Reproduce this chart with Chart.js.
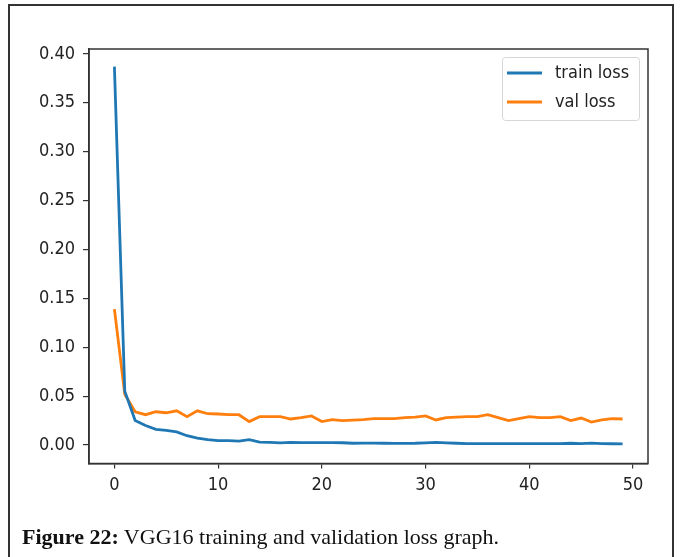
<!DOCTYPE html>
<html>
<head>
<meta charset="utf-8">
<script src="https://cdn.jsdelivr.net/npm/chart.js@4.4.1/dist/chart.umd.min.js"></script>
<style>
  html, body { margin: 0; padding: 0; background: #fff; width: 680px; height: 557px; overflow: hidden; }
  #frame { position: absolute; left: 8px; top: 4px; width: 666px; height: 600px; border: 2px solid #333; box-sizing: border-box; }
  #wrap { position: absolute; left: 0; top: 0; width: 680px; height: 557px; }
  #caption { position: absolute; left: 22px; top: 524px; font-family: "Liberation Serif", "DejaVu Serif", serif; font-size: 22px; color: #111; white-space: nowrap; }
</style>
</head>
<body>
<div id="frame"></div>
<div id="wrap"><canvas id="c" width="680" height="557"></canvas></div>
<div id="caption"><b>Figure 22:</b> VGG16 training and validation loss graph.</div>
<script>
const epochs = [0,1,2,3,4,5,6,7,8,9,10,11,12,13,14,15,16,17,18,19,20,21,22,23,24,25,26,27,28,29,30,31,32,33,34,35,36,37,38,39,40,41,42,43,44,45,46,47,48,49];
const trainLoss = [0.387,0.055,0.025,0.020,0.016,0.015,0.0135,0.0095,0.007,0.0055,
  0.0045,0.0045,0.004,0.0055,0.003,0.0028,0.0022,0.0028,0.0025,0.0025,
  0.0025,0.0025,0.0023,0.0018,0.002,0.002,0.0018,0.0017,0.0017,0.0018,
  0.0022,0.0028,0.0022,0.0018,0.0015,0.0015,0.0015,0.0015,0.0015,0.0015,
  0.0015,0.0014,0.0014,0.0014,0.0018,0.0015,0.002,0.0015,0.0013,0.0012];
const valLoss = [0.139,0.052,0.034,0.031,0.034,0.033,0.035,0.029,0.035,0.032,
  0.0317,0.031,0.031,0.024,0.029,0.029,0.029,0.0266,0.028,0.0297,
  0.024,0.026,0.025,0.0255,0.026,0.027,0.027,0.027,0.028,0.0286,
  0.0297,0.0256,0.028,0.0286,0.029,0.029,0.031,0.028,0.025,0.027,
  0.029,0.028,0.028,0.029,0.025,0.0276,0.0235,0.0256,0.027,0.0266];
const xTicks = [0,10,20,30,40,50];
const yTicks = [0.00,0.05,0.10,0.15,0.20,0.25,0.30,0.35,0.40];
const seriesLabels = ['train loss','val loss'];

const FONT = '"DejaVu Sans Condensed", "DejaVu Sans", sans-serif';

const spines = {
  id: 'spines',
  afterDatasetsDraw(chart) {
    const a = chart.chartArea, ctx = chart.ctx;
    ctx.save();
    ctx.strokeStyle = '#333';
    ctx.lineWidth = 1.5;
    ctx.strokeRect(a.left, a.top, a.right - a.left, a.bottom - a.top);
    ctx.restore();
  }
};

const mplLegend = {
  id: 'mplLegend',
  afterDraw(chart) {
    const ctx = chart.ctx;
    const x0 = 502, y0 = 57, w = 137, h = 63;
    ctx.save();
    ctx.fillStyle = 'rgba(255,255,255,0.85)';
    ctx.strokeStyle = '#d6d6d6';
    ctx.lineWidth = 1;
    ctx.beginPath();
    ctx.roundRect(x0 + 0.5, y0 + 0.5, w, h, 3);
    ctx.fill();
    ctx.stroke();
    ctx.font = '18px ' + FONT;
    ctx.textBaseline = 'middle';
    ctx.textAlign = 'left';
    chart.data.datasets.forEach((ds, i) => {
      const y = y0 + 16 + i * 29;
      ctx.strokeStyle = ds.borderColor;
      ctx.lineWidth = 2.8;
      ctx.beginPath();
      ctx.moveTo(x0 + 5, y);
      ctx.lineTo(x0 + 40, y);
      ctx.stroke();
      ctx.fillStyle = '#222';
      ctx.fillText(ds.label, x0 + 53, y);
    });
    ctx.restore();
  }
};

new Chart(document.getElementById('c'), {
  type: 'line',
  data: {
    datasets: [
      { label: seriesLabels[0], data: epochs.map((e, i) => ({ x: e, y: trainLoss[i] })), borderColor: '#1f77b4', borderWidth: 2.8, pointRadius: 0, tension: 0, fill: false },
      { label: seriesLabels[1], data: epochs.map((e, i) => ({ x: e, y: valLoss[i] })), borderColor: '#ff7f0e', borderWidth: 2.8, pointRadius: 0, tension: 0, fill: false }
    ]
  },
  options: {
    responsive: false,
    animation: false,
    devicePixelRatio: 1,
    layout: { padding: { left: 0, top: 49, right: 32, bottom: 53.5 } },
    plugins: { legend: { display: false }, tooltip: { enabled: false } },
    scales: {
      x: {
        type: 'linear',
        min: -2.45, max: 51.45,
        afterFit(s) { s.height = 40; },
        afterBuildTicks(s) { s.ticks = xTicks.map(v => ({ value: v })); },
        grid: { drawOnChartArea: false, drawTicks: true, tickLength: 5, color: '#333', lineWidth: 1.2 },
        border: { display: true, color: '#333', width: 1.5 },
        ticks: { color: '#222', font: { family: FONT, size: 18 }, padding: 6, maxRotation: 0 }
      },
      y: {
        type: 'linear',
        min: -0.0189, max: 0.405,
        afterFit(s) { s.width = 89; },
        afterBuildTicks(s) { s.ticks = yTicks.map(v => ({ value: v })); },
        grid: { drawOnChartArea: false, drawTicks: true, tickLength: 6, color: '#333', lineWidth: 1.2 },
        border: { display: true, color: '#333', width: 1.5 },
        ticks: { color: '#222', font: { family: FONT, size: 18 }, padding: 8, callback: v => Number(v).toFixed(2) }
      }
    }
  },
  plugins: [spines, mplLegend]
});
</script>
</body>
</html>
